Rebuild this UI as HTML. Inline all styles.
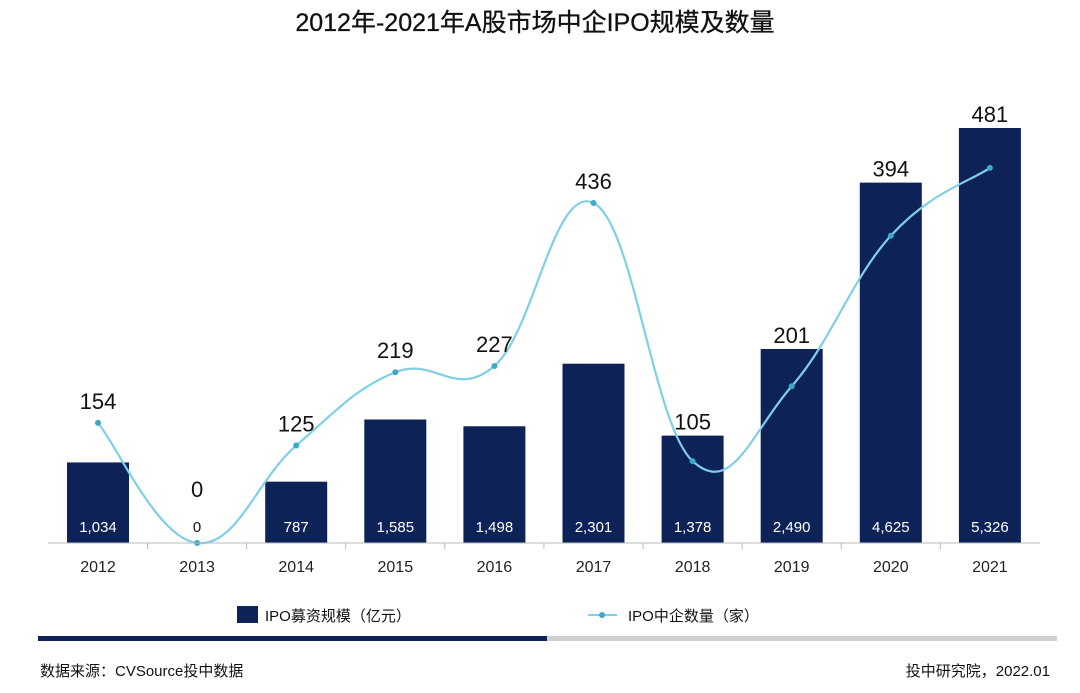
<!DOCTYPE html>
<html><head><meta charset="utf-8">
<style>
body{margin:0;background:#fff;width:1080px;height:688px;overflow:hidden;font-family:"Liberation Sans","Noto Sans CJK SC",sans-serif;}
svg text{font-family:"Liberation Sans","Noto Sans CJK SC",sans-serif;}
</style></head>
<body>
<svg id="chart" width="1080" height="688" viewBox="0 0 1080 688" xmlns="http://www.w3.org/2000/svg">
<text x="535" y="31" text-anchor="middle" font-size="25" fill="#111" stroke="#111" stroke-width="0.3">2012年-2021年A股市场中企IPO规模及数量</text>
<g id="plot"></g>
<line x1="48" y1="543" x2="1040" y2="543" stroke="#bbb" stroke-width="1"/>
<g id="xaxis"></g>
<g>
<rect x="237" y="606" width="21" height="17" fill="#0d2357"/>
<text x="265" y="621" font-size="15" fill="#111">IPO募资规模（亿元）</text>
</g>
<g>
<line x1="588" y1="615" x2="617" y2="615" stroke="#7fcfe6" stroke-width="2"/>
<circle cx="602" cy="615" r="3" fill="#3ba9cc"/>
<text x="628" y="621" font-size="15" fill="#111">IPO中企数量（家）</text>
</g>
<rect x="38" y="636" width="509" height="5" fill="#0d2357"/>
<rect x="547" y="636" width="510" height="5" fill="#cfcfcf"/>
<text x="40" y="676" font-size="15" fill="#111">数据来源：CVSource投中数据</text>
<text x="1050" y="676" font-size="15" fill="#111" text-anchor="end">投中研究院，2022.01</text>
</svg>
<script>
const years=["2012","2013","2014","2015","2016","2017","2018","2019","2020","2021"];
const amounts=[1034,0,787,1585,1498,2301,1378,2490,4625,5326];
const counts=[154,0,125,219,227,436,105,201,394,481];
const amountLabels=["1,034","0","787","1,585","1,498","2,301","1,378","2,490","4,625","5,326"];

const NS="http://www.w3.org/2000/svg";
const base=543;
const xPos=i=>98+i*99.1;
const yAmt=v=>base-v*415/5326;
const yCnt=v=>base-v*340/436;
const plot=document.getElementById('plot'), xa=document.getElementById('xaxis');
function mk(tag,attrs,parent){const e=document.createElementNS(NS,tag);for(const k in attrs)e.setAttribute(k,attrs[k]);parent.appendChild(e);return e;}

years.forEach((y,i)=>{
  const x=xPos(i);
  if(amounts[i]>0){
    const r=mk('rect',{x:x-31,y:yAmt(amounts[i]),width:62,height:base-yAmt(amounts[i]),fill:'#0d2357'},plot);
    
    
  }
  const t=mk('text',{x:x,y:532,'text-anchor':'middle','font-size':15,fill:amounts[i]>0?'#fff':'#111'},plot);
  t.textContent=amountLabels[i];
  
  
  const xl=mk('text',{x:x,y:572,'text-anchor':'middle','font-size':16,fill:'#222'},xa);
  xl.textContent=y;
  
  
  if(i<years.length-1){
    const tk=mk('line',{x1:x+49.5,y1:base,x2:x+49.5,y2:base+6,stroke:'#bbb'},xa);
    
    
  }
});

const pts=counts.map((c,i)=>[xPos(i),yCnt(c)]);
let d='M'+pts[0][0]+','+pts[0][1];
for(let i=0;i<pts.length-1;i++){
  const p0=pts[Math.max(0,i-1)],p1=pts[i],p2=pts[i+1],p3=pts[Math.min(pts.length-1,i+2)];
  const k=1/5;
  d+=' C'+(p1[0]+(p2[0]-p0[0])*k)+','+(p1[1]+(p2[1]-p0[1])*k)+' '+(p2[0]-(p3[0]-p1[0])*k)+','+(p2[1]-(p3[1]-p1[1])*k)+' '+p2[0]+','+p2[1];
}
const line=mk('path',{d:d,fill:'none',stroke:'#7fcfe6','stroke-width':2.2},plot);


pts.forEach((p,i)=>{
  const c=mk('circle',{cx:p[0],cy:p[1],r:3,fill:'#3ba9cc'},plot);
  
  
  const barTop=amounts[i]>0?yAmt(amounts[i]):base;
  let ly;
  if(counts[i]===0) ly=p[1]-46;
  else if(barTop<p[1]) ly=barTop-6;
  else ly=p[1]-14;
  const t=mk('text',{x:p[0],y:ly,'text-anchor':'middle','font-size':22,fill:'#111'},plot);
  t.textContent=counts[i];
  
  
});
</script>
</body></html>
